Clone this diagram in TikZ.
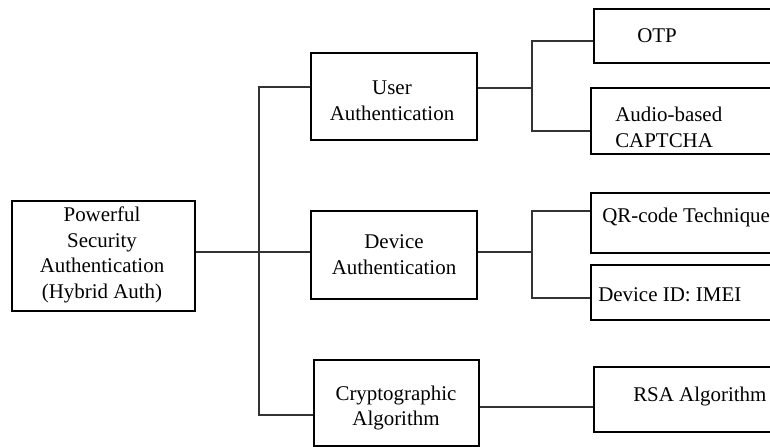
\documentclass[tikz,border=0pt]{standalone}
\usepackage{fontspec}
\setmainfont{Liberation Serif}
\begin{document}
\begin{tikzpicture}[x=0.75pt,y=-0.75pt,
  box/.style={draw=black,line width=1.5pt,inner sep=0pt,anchor=north west},
  txt/.style={inner sep=0pt,align=center,font=\fontsize{15.7}{19.3}\selectfont},
  ltxt/.style={txt,anchor=west,align=left},
  link/.style={draw=black!80,line width=0.8pt}]
\useasboundingbox (0,0) rectangle (770,446);
\clip (0,0) rectangle (770,446);

% root
\node[box,minimum width=183*0.75pt,minimum height=110*0.75pt] (root) at (11,200) {};
\node[txt] (rootT) at (102,255) {Powerful\\Security\\Authentication\\(Hybrid Auth)};

% second level
\node[box,minimum width=166*0.75pt,minimum height=87*0.75pt] (user) at (310,52) {};
\node[txt] (userT) at (392,101) {User\\Authentication};
\node[box,minimum width=166*0.75pt,minimum height=88*0.75pt] (device) at (310,210) {};
\node[txt] (deviceT) at (394,255) {Device\\Authentication};
\node[box,minimum width=165*0.75pt,minimum height=86*0.75pt] (crypto) at (313,359) {};
\node[txt] (cryptoT) at (396,408) {Cryptographic\\Algorithm};

% leaves (running off the right edge)
\node[box,minimum width=220*0.75pt,minimum height=54*0.75pt] (otp) at (593,8) {};
\node[ltxt] (otpT) at (637,36) {OTP};
\node[box,minimum width=220*0.75pt,minimum height=66*0.75pt] (audio) at (590,87) {};
\node[ltxt] (audioT) at (615,127) {Audio-based\\CAPTCHA};
\node[box,minimum width=220*0.75pt,minimum height=60*0.75pt] (qr) at (590,192) {};
\node[ltxt] (qrT) at (602,217) {QR-code Technique};
\node[box,minimum width=220*0.75pt,minimum height=55*0.75pt] (devid) at (590,264) {};
\node[ltxt] (devidT) at (598,295) {Device ID: IMEI};
\node[box,minimum width=220*0.75pt,minimum height=65*0.75pt] (rsa) at (593,366) {};
\node[ltxt] (rsaT) at (633,396) {RSA Algorithm};

% junction points
\coordinate (spine) at (259,252);
\coordinate (jtop) at (259,87);
\coordinate (jbot) at (259,415);
\coordinate (uJ) at (532,88);
\coordinate (uTop) at (532,41);
\coordinate (uBot) at (532,131);
\coordinate (dJ) at (532,252);
\coordinate (dTop) at (532,211);
\coordinate (dBot) at (532,298);
\coordinate (cJ) at (0,407);

% connectors
\draw[link] (root.east |- spine) -- (spine) -- (device.west |- spine);
\draw[link] (user.west |- jtop) -- (jtop) -- (jbot) -- (crypto.west |- jbot);
\draw[link] (user.east |- uJ) -- (uJ);
\draw[link] (otp.west |- uTop) -- (uTop) -- (uBot) -- (audio.west |- uBot);
\draw[link] (device.east |- dJ) -- (dJ);
\draw[link] (qr.west |- dTop) -- (dTop) -- (dBot) -- (devid.west |- dBot);
\draw[link] (crypto.east |- cJ) -- (rsa.west |- cJ);
\end{tikzpicture}
\end{document}
